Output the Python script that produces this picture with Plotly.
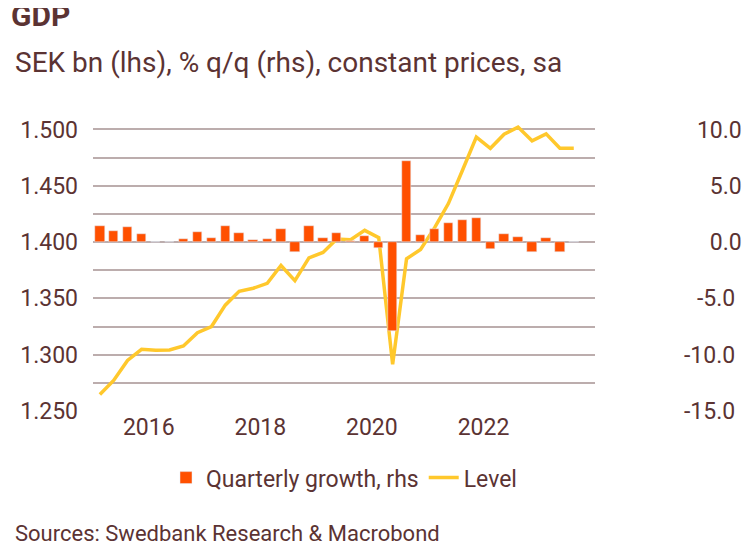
import plotly.graph_objects as go
import pandas as pd

quarters = pd.period_range("2015Q1", "2023Q3", freq="Q")
dates = [(p.start_time + pd.Timedelta(days=45)).strftime("%Y-%m-%d") for p in quarters]

growth = [1.4, 1.0, 1.35, 0.7, 0.05, 0.05, 0.27, 0.9, 0.4, 1.4, 0.8, 0.2, 0.27, 1.15,
          -0.9, 1.4, 0.4, 0.8, 0.1, 0.55, -0.5, -7.9, 7.2, 0.6, 1.15, 1.7, 1.95, 2.1,
          -0.65, 0.75, 0.45, -0.85, 0.4, -0.85, 0.0]
level = [1264.6, 1277.1, 1294.9, 1304.8, 1303.9, 1304.2, 1307.7, 1319.6, 1325.0, 1344.0,
         1356.3, 1359.0, 1363.4, 1379.2, 1365.8, 1386.0, 1390.8, 1402.7, 1402.1, 1410.4,
         1403.9, 1291.4, 1385.1, 1393.5, 1412.8, 1434.2, 1463.4, 1493.2, 1483.3, 1495.8,
         1502.1, 1489.9, 1496.1, 1483.3, 1483.3]

left_ticks = list(range(1250, 1526, 25))
left_text = [f"1.{v-1000:03d}" if v % 50 == 0 else "" for v in left_ticks]
right_ticks = [-15, -12.5, -10, -7.5, -5, -2.5, 0, 2.5, 5, 7.5, 10, 12.5]
fs = "\u2007"
right_text = ["-15.0", "", "-10.0", "", fs + "-5.0", "", fs * 2 + "0.0", "", fs * 2 + "5.0", "", fs + "10.0", ""]

TXT = "#5b3333"
fig = go.Figure()
fig.add_trace(go.Bar(x=dates, y=growth, yaxis="y2", name="Quarterly growth, rhs",
                     marker_color="#ff5000", width=1000 * 3600 * 24 * 62))
fig.add_trace(go.Scatter(x=dates, y=level, name="Level", mode="lines",
                         line=dict(color="#ffc82c", width=3.5)))
fig.update_layout(
    width=750, height=559, plot_bgcolor="white", paper_bgcolor="white",
    margin=dict(l=81, r=163, t=93, b=156),
    font=dict(family="Roboto", color=TXT, size=23),
    showlegend=True, bargap=0,
    legend=dict(orientation="h", x=0.5, xref="paper", xanchor="center", y=-0.215,
                yanchor="middle", font=dict(size=23), traceorder="normal"),
    xaxis=dict(type="date", range=["2015-01-01", "2024-01-01"], showgrid=False,
               tickvals=["2016-01-01", "2018-01-01", "2020-01-01", "2022-01-01"],
               ticktext=["2016", "2018", "2020", "2022"], ticks="", showline=False,
               tickfont=dict(size=23)),
    yaxis=dict(range=[1250, 1525.3], tickvals=left_ticks, ticktext=left_text,
               gridcolor="#bcadad", gridwidth=1.5, zeroline=False, ticklabelstandoff=14,
               tickfont=dict(size=23)),
    yaxis2=dict(range=[-15, 12.53], overlaying="y", side="right", tickvals=right_ticks,
                ticktext=right_text, showgrid=False, zeroline=False,
                ticklabelstandoff=88, tickfont=dict(size=23)),
)
fig.add_annotation(text="<b>GDP</b>", xref="paper", yref="paper", x=-0.168, y=1.0,
                   xanchor="left", yanchor="middle", yshift=86, showarrow=False,
                   font=dict(size=30, color=TXT))
fig.add_annotation(text="SEK bn (lhs), % q/q (rhs), constant prices, sa", xref="paper",
                   yref="paper", x=-0.16, y=1.0, xanchor="left", yanchor="middle",
                   yshift=39, showarrow=False, font=dict(size=28, color=TXT))
fig.add_annotation(text="Sources: Swedbank Research & Macrobond", xref="paper",
                   yref="paper", x=-0.16, y=0, xanchor="left", yanchor="middle",
                   yshift=-122, showarrow=False, font=dict(size=22, color=TXT))
fig.write_html("out.html")
